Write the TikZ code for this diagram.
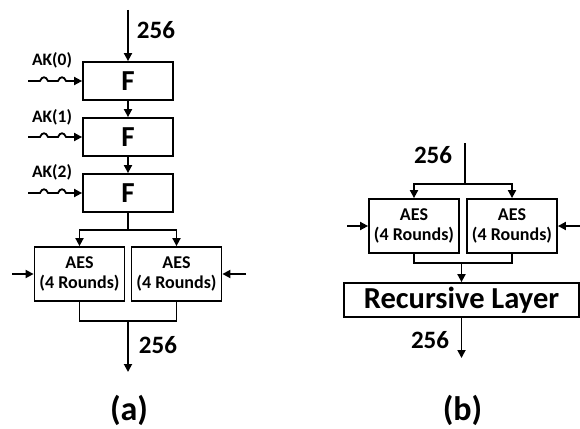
\documentclass[tikz,border=0pt]{standalone}
\usepackage{fontspec}
\setmainfont{Carlito}
\usetikzlibrary{arrows.meta}
\begin{document}
\begin{tikzpicture}[
        x=1pt, y=-1pt,
        wire/.style={line width=1.8pt},
        feed/.style={wire, -{Triangle[length=8pt,width=8pt]}},
        fbox/.style={draw, line width=1.8pt, minimum width=90pt, minimum height=38pt,
            inner sep=0pt, font=\fontsize{29}{29}\selectfont\bfseries},
        aesbox/.style={draw, line width=1.8pt, minimum width=90pt, minimum height=54pt,
            inner sep=0pt, align=center, font=\fontsize{18}{20}\selectfont\bfseries},
        recbox/.style={draw, line width=1.8pt, minimum width=235pt, minimum height=34pt,
            inner sep=0pt, font=\fontsize{30.5}{30.5}\selectfont\bfseries},
        width label/.style={font=\fontsize{25}{25}\selectfont\bfseries},
        key label/.style={font=\fontsize{17.5}{17.5}\selectfont\bfseries},
        caption/.style={font=\fontsize{34}{34}\selectfont\bfseries}
    ]
    \useasboundingbox (0,0) rectangle (580,428);

    % (a) three F rounds, each fed by its round key
    \coordinate (ina) at (128,10);
    \foreach \i/\y/\ly in {0/81/60, 1/137/117, 2/193/172} {
        \node[fbox] (f\i) at (128,\y) {F};
        \node[key label] (ak\i) at (52,\ly) {AK(\i)};
        \coordinate (k\i) at (28,\y);
        \draw[feed] (k\i) -- ++(12,0)
            .. controls +(2,-5) and +(-2,-5) .. ++(8,0) -- ++(10,0)
            .. controls +(2,-5) and +(-2,-5) .. ++(8,0) -- (f\i.west);
    }
    \draw[feed] (ina) -- (f0.north);
    \node[width label] (wa) at (156,30) {256};
    \draw[feed] (f0) -- (f1);
    \draw[feed] (f1) -- (f2);

    % two AES halves, split and joined again
    \node[aesbox] (aesa1) at (79.5,274) {AES\\(4 Rounds)};
    \node[aesbox] (aesa2) at (176.5,274) {AES\\(4 Rounds)};
    \coordinate (splita) at (128,230);
    \draw[wire] (f2) -- (splita);
    \draw[feed] (splita) -| (aesa1.north);
    \draw[feed] (splita) -| (aesa2.north);
    \coordinate (la) at (12,274);
    \coordinate (ra) at (246,274);
    \draw[feed] (la) -- (aesa1.west);
    \draw[feed] (ra) -- (aesa2.east);
    \coordinate (joina) at (128,321);
    \coordinate (outa) at (128,372);
    \draw[wire] (aesa1.south) |- (joina) -| (aesa2.south);
    \draw[feed] (joina) -- (outa);
    \node[width label] (wa2) at (158,345) {256};
    \node[caption] (capa) at (129,410) {(a)};

    % (b) AES halves feeding the recursive layer
    \node[aesbox] (aesb1) at (414,226) {AES\\(4 Rounds)};
    \node[aesbox] (aesb2) at (512,226) {AES\\(4 Rounds)};
    \coordinate (inb) at (465,143);
    \coordinate (splitb) at (465,184);
    \draw[wire] (inb) -- (splitb);
    \draw[feed] (splitb) -| (aesb1.north);
    \draw[feed] (splitb) -| (aesb2.north);
    \node[width label] (wb) at (433,155) {256};
    \coordinate (lb) at (347,226);
    \coordinate (rb) at (580,226);
    \draw[feed] (lb) -- (aesb1.west);
    \draw[feed] (rb) -- (aesb2.east);
    \node[recbox] (rec) at (461.5,300) {Recursive Layer};
    \coordinate (joinb) at (461.5,263);
    \coordinate (outb) at (461.5,358);
    \draw[wire] (aesb1.south) |- (joinb) -| (aesb2.south);
    \draw[feed] (joinb) -- (rec.north);
    \draw[feed] (rec.south) -- (outb);
    \node[width label] (wb2) at (430,340) {256};
    \node[caption] (capb) at (462.5,410) {(b)};
\end{tikzpicture}
\end{document}
